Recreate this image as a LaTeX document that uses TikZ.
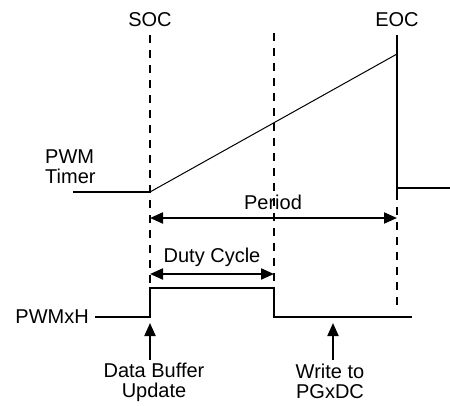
\documentclass[tikz,border=0pt]{standalone}
\usepackage{fontspec}
\setmainfont{Liberation Sans}
\usetikzlibrary{arrows.meta}
\begin{document}
\begin{tikzpicture}[x=1pt,y=-1pt,
  lbl/.style={font=\fontsize{20}{19.5}\selectfont, inner sep=0pt, anchor=base, align=center},
  sig/.style={line width=2pt},
  ramp/.style={line width=1pt},
  guide/.style={line width=2pt, dash pattern=on 8pt off 7pt},
  dim/.style={line width=2pt, {Triangle[length=13pt,width=11pt]}-{Triangle[length=13pt,width=11pt]}},
  pointer/.style={line width=2pt, -{Triangle[length=13pt,width=11pt]}}]
\useasboundingbox (0,0) rectangle (450,405);
% labels
\node[lbl] (soc) at (150,26) {SOC};
\node[lbl] (eoc) at (397,26) {EOC};
\node[lbl, anchor=base west, align=left] (pwmt) at (45,183) {PWM\\Timer};
\node[lbl] (period) at (273,209.5) {Period};
\node[lbl] (duty) at (212,262) {Duty Cycle};
\node[lbl, anchor=base east] (pwmxh) at (89,323) {PWMxH};
\node[lbl] (dbu) at (154,397) {Data Buffer\\Update};
\node[lbl] (wr) at (330,398) {Write to\\PGxDC};
% coordinates
\coordinate (s0) at (150,35);
\coordinate (s1) at (150,288);
\coordinate (m0) at (274,33);
\coordinate (m1) at (274,288);
\coordinate (e0) at (397,35);
\coordinate (e1) at (397,192);
\coordinate (e2) at (397,310);
\coordinate (t0) at (73,192);
\coordinate (t1) at (150,192);
\coordinate (t2) at (397,54);
\coordinate (r0) at (397,188);
\coordinate (r1) at (450,188);
\coordinate (pa) at (150,218);
\coordinate (pb) at (397,218);
\coordinate (da) at (150,274);
\coordinate (db) at (274,274);
\coordinate (h0) at (95,317);
\coordinate (h1) at (150,317);
\coordinate (h2) at (274,317);
\coordinate (h3) at (412,317);
\coordinate (u0) at (150,360);
\coordinate (u1) at (150,323);
\coordinate (w0) at (333,360);
\coordinate (w1) at (333,323);
% guides
\draw[guide] (s0) -- (s1);
\draw[guide] (m0) -- (m1);
\draw[guide] (e1) -- (e2);
% timer
\draw[sig] (t0) -- (t1);
\draw[ramp] (t1) -- (t2);
\draw[sig] (e0) -- (e1);
\draw[sig] (r0) -- (r1);
% dimensions
\draw[dim] (pa) -- (pb);
\draw[dim] (da) -- (db);
% PWMxH
\draw[sig] (h0) -- (h1) -- (s1) -- (m1) -- (h2) -- (h3);
% pointers
\draw[pointer] (u0) -- (u1);
\draw[pointer] (w0) -- (w1);
\end{tikzpicture}
\end{document}
